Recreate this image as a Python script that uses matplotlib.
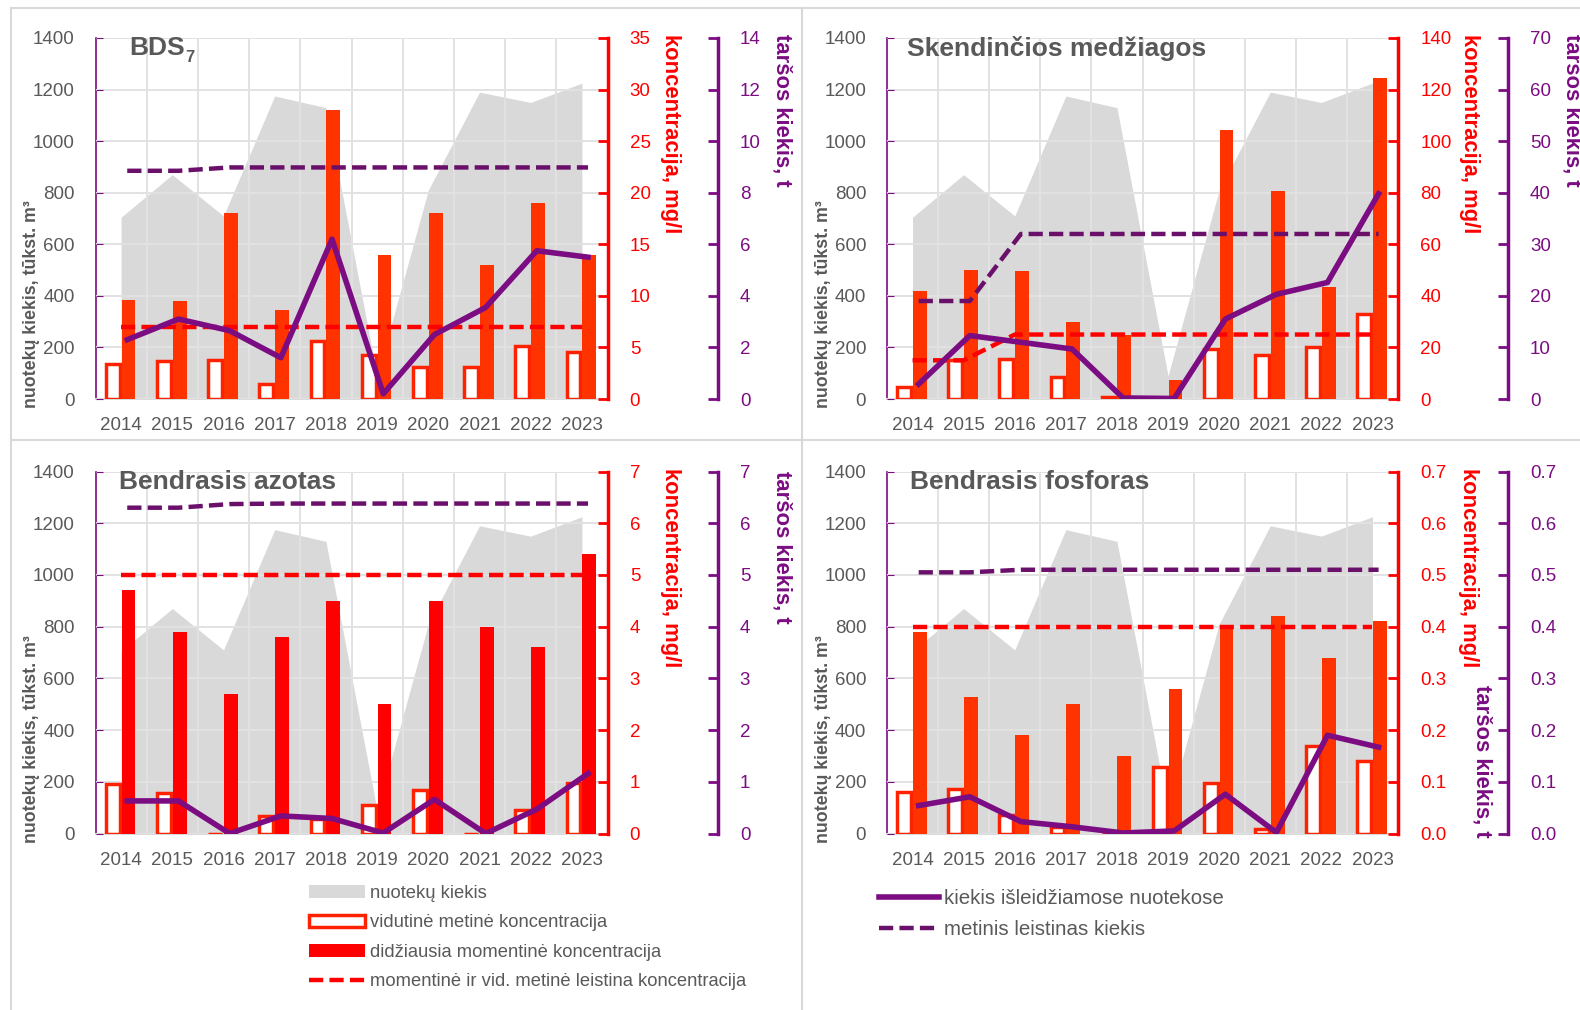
import matplotlib
matplotlib.use('Agg')
import numpy as np
import matplotlib.pyplot as plt
from matplotlib.patches import Patch
from matplotlib.lines import Line2D

plt.rcParams['font.family'] = ['Liberation Sans', 'DejaVu Sans']

years = ['2014', '2015', '2016', '2017', '2018', '2019', '2020', '2021', '2022', '2023']
# nuotekų kiekis, tūkst. m3 (same for all panels)
flow = [705, 870, 710, 1175, 1130, 90, 810, 1190, 1150, 1225]

# BDS7
bds_avg = [3.4, 3.65, 3.8, 1.45, 5.6, 4.3, 3.1, 3.1, 5.1, 4.55]
bds_max = [9.6, 9.5, 18, 8.6, 28, 14, 18, 13, 19, 14]
bds_lim = [7, 7, 7, 7, 7, 7, 7, 7, 7, 7]
bds_load = [2.3, 3.1, 2.65, 1.6, 6.2, 0.2, 2.5, 3.55, 5.75, 5.5]
bds_load_lim = [8.85, 8.85, 8.98, 8.98, 8.98, 8.98, 8.98, 8.98, 8.98, 8.98]

# Skendinčios medžiagos
sm_avg = [4.5, 15, 15.5, 8.4, 0.6, 0, 19.4, 17.2, 20, 33]
sm_max = [42, 50, 49.5, 30, 25, 7.5, 104.5, 80.5, 43.5, 124.5]
sm_lim = [15, 15, 25, 25, 25, 25, 25, 25, 25, 25]
sm_load = [2.9, 12.3, 11, 9.7, 0.2, 0.1, 15.5, 20.3, 22.6, 39.8]
sm_load_lim = [19, 19, 32, 32, 32, 32, 32, 32, 32, 32]

# Bendrasis azotas
n_avg = [0.95, 0.79, 0, 0.34, 0.28, 0.56, 0.85, 0, 0.45, 0.97]
n_max = [4.7, 3.9, 2.7, 3.8, 4.5, 2.5, 4.5, 4.0, 3.6, 5.4]
n_lim = [5, 5, 5, 5, 5, 5, 5, 5, 5, 5]
n_load = [0.63, 0.63, 0, 0.34, 0.29, 0.01, 0.66, 0, 0.47, 1.16]
n_load_lim = [6.3, 6.3, 6.37, 6.38, 6.38, 6.38, 6.38, 6.38, 6.38, 6.38]

# Bendrasis fosforas
p_avg = [0.081, 0.086, 0.036, 0.012, 0, 0.128, 0.097, 0.008, 0.169, 0.14]
p_max = [0.39, 0.263, 0.19, 0.25, 0.15, 0.28, 0.40, 0.42, 0.34, 0.41]
p_lim = [0.4, 0.4, 0.4, 0.4, 0.4, 0.4, 0.4, 0.4, 0.4, 0.4]
p_load = [0.054, 0.071, 0.023, 0.013, 0.001, 0.005, 0.076, 0.002, 0.19, 0.167]
p_load_lim = [0.505, 0.505, 0.51, 0.51, 0.51, 0.51, 0.51, 0.51, 0.51, 0.51]

GRAY = '#595959'
RED = '#FF0000'
PURPLE = '#7B0C82'
DPURPLE = '#6A0F6A'

fig = plt.figure(figsize=(15.8, 10.1), dpi=100)


def panel(rect, title, title_x, avg, mx, lim, load, load_lim, cmax, cstep, lmax, lstep,
          fmt, bar_color, red_lab_x, purp_lab, sub=None):
    x = np.arange(len(years))
    ax = fig.add_axes(rect)
    ax.fill_between(x, flow, color='#D9D9D9', lw=0, zorder=1)
    ax.set_xlim(-0.5, 9.5)
    ax.set_ylim(0, 1400)
    ax.set_yticks(range(0, 1401, 200))
    ax.set_xticks(x)
    ax.set_xticklabels(years)
    ax.set_xticks(np.arange(0.5, 9, 1), minor=True)
    ax.set_axisbelow(False)
    ax.grid(True, axis='y', color='#E2E2E2', lw=1.4)
    ax.grid(True, axis='x', which='minor', color='#E2E2E2', lw=1.4)
    for s in ['top', 'right']:
        ax.spines[s].set_visible(False)
    ax.spines['left'].set_color(PURPLE)
    ax.spines['left'].set_linewidth(1.2)
    ax.spines['bottom'].set_color('#D9D9D9')
    ax.spines['bottom'].set_linewidth(1.5)
    ax.tick_params(axis='y', direction='in', color=PURPLE, length=5, labelcolor=GRAY,
                   labelsize=13.5, pad=15)
    ax.tick_params(axis='x', which='both', length=0, labelcolor=GRAY, labelsize=13.5, pad=13)
    ax.text(-0.125, 0.262, 'nuotekų kiekis, tūkst. m³', transform=ax.transAxes,
            rotation=90, ha='center', va='center', fontsize=12.8, fontweight='bold', color=GRAY)
    t = ax.text(title_x, 0.972, title, transform=ax.transAxes, ha='left', va='center',
                fontsize=19, fontweight='bold', color=GRAY, zorder=10)
    if sub:
        ax.annotate(sub, xy=(1, 0), xycoords=t, xytext=(0.5, 2), textcoords='offset points',
                    ha='left', va='center', fontsize=12, fontweight='bold', color=GRAY)

    # concentration axis
    axr = ax.twinx()
    axr.bar(x - 0.165, avg, width=0.27, facecolor='white', edgecolor='#FF2200',
            linewidth=2.5, zorder=3)
    axr.bar(x + 0.145, mx, width=0.27, color=bar_color, lw=0, zorder=3)
    axr.plot(x, lim, color=RED, lw=3.2, ls=(0, (3.2, 1.4)), zorder=4)
    axr.set_ylim(0, cmax)
    cticks = np.arange(0, cmax + cstep / 2, cstep)
    axr.set_yticks(cticks)
    axr.set_yticklabels([fmt.format(v) for v in cticks])
    for s in ['top', 'left', 'bottom']:
        axr.spines[s].set_visible(False)
    axr.spines['right'].set_color(RED)
    axr.spines['right'].set_linewidth(2.5)
    axr.tick_params(axis='y', direction='in', color=RED, length=7, width=2,
                    labelcolor=RED, labelsize=13.5, pad=16)
    axr.text(red_lab_x, 0.735, 'koncentracija, mg/l', transform=axr.transAxes,
             rotation=-90, ha='center', va='center', fontsize=15.8, fontweight='bold', color=RED)

    # load axis
    axp = ax.twinx()
    axp.spines['right'].set_position(('axes', 1.215))
    axp.plot(x + 0.12, load, color=PURPLE, lw=4, solid_joinstyle='round', zorder=5)
    axp.plot(x + 0.12, load_lim, color=DPURPLE, lw=3.2, ls=(0, (3.2, 1.4)), zorder=5)
    axp.set_ylim(0, lmax)
    lticks = np.arange(0, lmax + lstep / 2, lstep)
    axp.set_yticks(lticks)
    axp.set_yticklabels([fmt.format(v) for v in lticks])
    for s in ['top', 'left', 'bottom']:
        axp.spines[s].set_visible(False)
    axp.spines['right'].set_color(PURPLE)
    axp.spines['right'].set_linewidth(2.5)
    axp.tick_params(axis='y', direction='in', color=PURPLE, length=7, width=2,
                    labelcolor=PURPLE, labelsize=13.5, pad=16)
    axp.text(purp_lab[0], purp_lab[1], 'taršos kiekis, t', transform=axp.transAxes,
             rotation=-90, ha='center', va='center', fontsize=15.8, fontweight='bold', color=PURPLE)


W, H = 1580, 1010
r1 = [95.5 / W, (H - 399) / H, 512 / W, 361 / H]
r2 = [887 / W, (H - 399) / H, 511 / W, 361 / H]
r3 = [95.5 / W, (H - 833.5) / H, 512 / W, 362 / H]
r4 = [887 / W, (H - 833.5) / H, 511 / W, 362 / H]

panel(r1, 'BDS', 0.065, bds_avg, bds_max, bds_lim, bds_load, bds_load_lim, 35, 5, 14, 2,
      '{:.0f}', '#FF3300', 1.124, (1.34, 0.80), sub='7')
panel(r2, 'Skendinčios medžiagos', 0.04, sm_avg, sm_max, sm_lim, sm_load, sm_load_lim,
      140, 20, 70, 10, '{:.0f}', '#FF3300', 1.14, (1.34, 0.80))
panel(r3, 'Bendrasis azotas', 0.045, n_avg, n_max, n_lim, n_load, n_load_lim, 7, 1, 7, 1,
      '{:.0f}', '#FF0000', 1.124, (1.34, 0.79))
panel(r4, 'Bendrasis fosforas', 0.045, p_avg, p_max, p_lim, p_load, p_load_lim,
      0.7, 0.1, 0.7, 0.1, '{:.1f}', '#FF3300', 1.137, (1.164, 0.2))

# panel frame lines
for (xa, ya) in [((11, W), (8, 8)), ((11, 11), (8, H)), ((802, 802), (8, H)), ((11, W), (440, 440))]:
    fig.add_artist(Line2D([v / W for v in xa], [1 - v / H for v in ya],
                          color='#D9D9D9', lw=1.5))

h1 = [Patch(facecolor='#D9D9D9', edgecolor='none'),
      Patch(facecolor='white', edgecolor='#FF2200', lw=2.5),
      Patch(facecolor=RED, edgecolor='none'),
      Line2D([], [], color=RED, lw=3.2, ls=(0, (3.2, 1.4)))]
l1 = ['nuotekų kiekis', 'vidutinė metinė koncentracija', 'didžiausia momentinė koncentracija',
      'momentinė ir vid. metinė leistina koncentracija']
fig.legend(h1, l1, loc='upper left', bbox_to_anchor=(309 / W, 1 - 885 / H), frameon=False,
           fontsize=13.2, handlelength=3.05, handleheight=0.65, labelspacing=0.68,
           handletextpad=0.25, borderpad=0, borderaxespad=0, labelcolor=GRAY)

h2 = [Line2D([], [], color=PURPLE, lw=4),
      Line2D([], [], color=DPURPLE, lw=3.2, ls=(0, (3.2, 1.4)))]
l2 = ['kiekis išleidžiamose nuotekose', 'metinis leistinas kiekis']
fig.legend(h2, l2, loc='upper left', bbox_to_anchor=(879 / W, 1 - 889 / H), frameon=False,
           fontsize=14.8, handlelength=2.9, labelspacing=0.6,
           handletextpad=0.25, borderpad=0, borderaxespad=0, labelcolor=GRAY)

fig.savefig('out.png', dpi=100)
